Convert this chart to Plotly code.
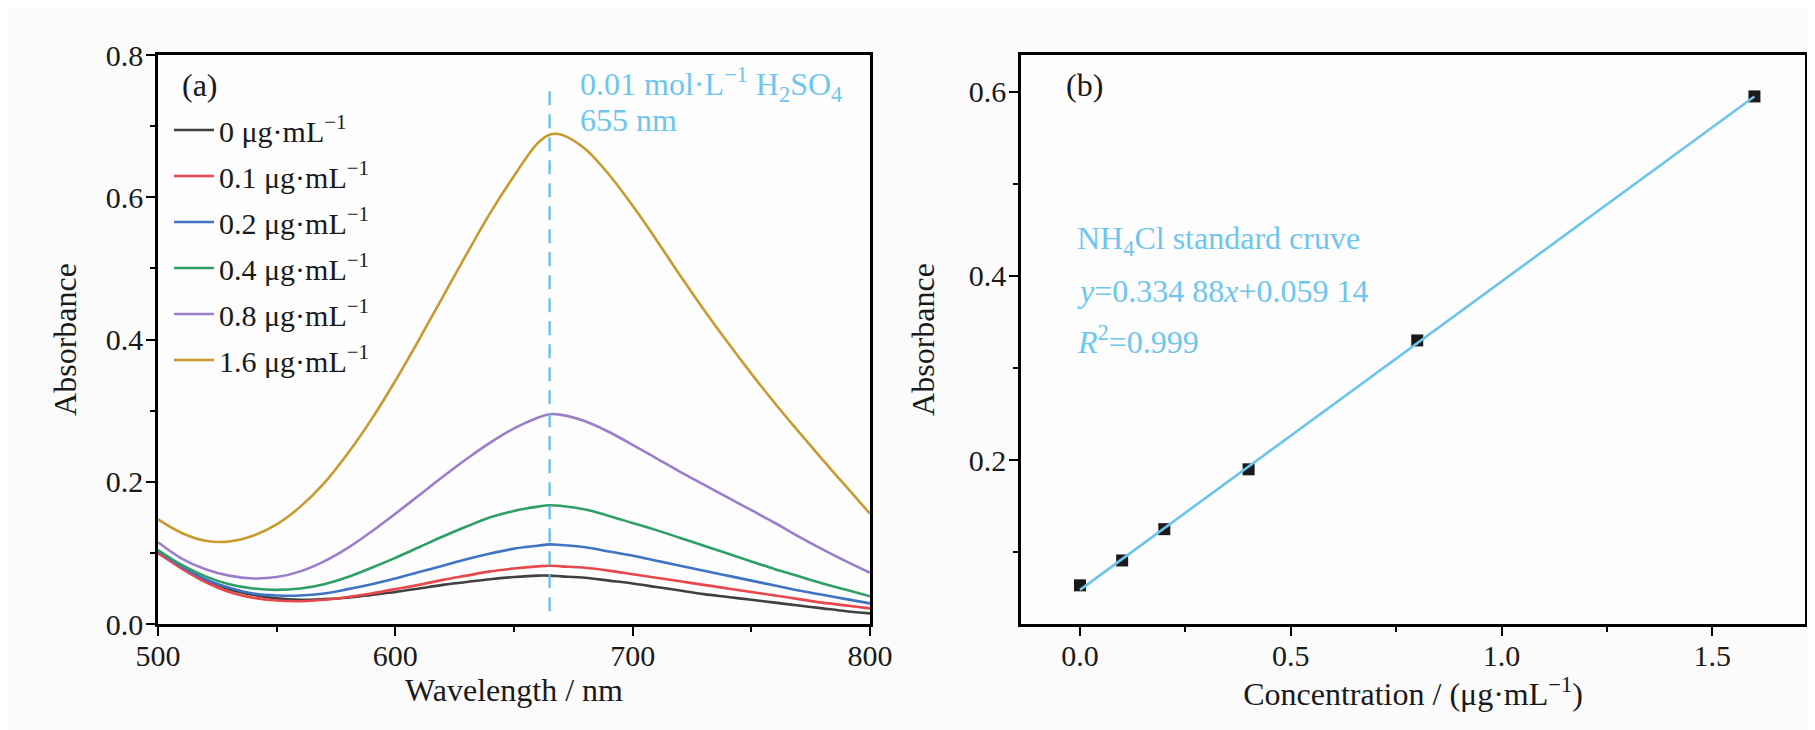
import plotly.graph_objects as go

# ---------------- data ----------------
wavelength = [500, 510, 520, 530, 540, 550, 560, 570, 580, 590, 600, 610, 620, 630, 640, 650,
              660, 665, 670, 680, 690, 700, 710, 720, 730, 740, 750, 760, 770, 780, 790, 800]

abs_0 = [0.100, 0.080, 0.062, 0.049, 0.041, 0.036, 0.034, 0.035, 0.037, 0.041, 0.045, 0.050, 0.055, 0.059, 0.063, 0.066,
         0.068, 0.068, 0.067, 0.065, 0.061, 0.057, 0.052, 0.047, 0.042, 0.038, 0.034, 0.030, 0.026, 0.022, 0.018, 0.015]
abs_01 = [0.100, 0.078, 0.059, 0.045, 0.037, 0.033, 0.032, 0.034, 0.038, 0.043, 0.049, 0.055, 0.062, 0.068, 0.074, 0.078,
          0.081, 0.082, 0.081, 0.079, 0.075, 0.070, 0.065, 0.060, 0.055, 0.050, 0.045, 0.040, 0.035, 0.030, 0.026, 0.022]
abs_02 = [0.103, 0.081, 0.063, 0.051, 0.043, 0.040, 0.040, 0.043, 0.049, 0.056, 0.064, 0.073, 0.082, 0.091, 0.099, 0.106,
          0.110, 0.112, 0.111, 0.108, 0.102, 0.096, 0.089, 0.082, 0.075, 0.068, 0.061, 0.054, 0.047, 0.041, 0.035, 0.029]
abs_04 = [0.104, 0.083, 0.067, 0.056, 0.050, 0.048, 0.050, 0.056, 0.066, 0.079, 0.093, 0.108, 0.123, 0.137, 0.150, 0.159,
          0.165, 0.167, 0.166, 0.161, 0.152, 0.142, 0.132, 0.121, 0.110, 0.099, 0.088, 0.077, 0.067, 0.057, 0.048, 0.039]
abs_08 = [0.115, 0.092, 0.077, 0.068, 0.064, 0.066, 0.074, 0.088, 0.107, 0.130, 0.155, 0.181, 0.207, 0.232, 0.255, 0.275,
          0.290, 0.295, 0.294, 0.285, 0.270, 0.252, 0.233, 0.214, 0.196, 0.178, 0.160, 0.142, 0.123, 0.105, 0.088, 0.072]
abs_16 = [0.147, 0.128, 0.117, 0.116, 0.124, 0.140, 0.165, 0.198, 0.240, 0.288, 0.342, 0.400, 0.460, 0.520, 0.578, 0.630,
          0.676, 0.688, 0.688, 0.668, 0.632, 0.588, 0.540, 0.490, 0.442, 0.396, 0.352, 0.310, 0.270, 0.231, 0.193, 0.155]

series_labels = ["0 μg·mL<sup>−1</sup>", "0.1 μg·mL<sup>−1</sup>", "0.2 μg·mL<sup>−1</sup>",
                 "0.4 μg·mL<sup>−1</sup>", "0.8 μg·mL<sup>−1</sup>", "1.6 μg·mL<sup>−1</sup>"]
series_colors = ["#404040", "#e8474b", "#3f74c4", "#2f9f66", "#9c7dc9", "#c99a2e"]

peak_x = [665, 665]
peak_y = [0.018, 0.76]

conc = [0.0, 0.1, 0.2, 0.4, 0.8, 1.6]
conc_abs = [0.064, 0.091, 0.125, 0.190, 0.330, 0.595]
fit_x = [0.0, 1.6]
fit_y = [0.0591, 0.5949]

FONT = "Liberation Serif"
ANN_BLUE = "#6ec6ee"
W, H = 1815, 730

fig = go.Figure()

for vals, name, col in zip([abs_0, abs_01, abs_02, abs_04, abs_08, abs_16], series_labels, series_colors):
    fig.add_trace(go.Scatter(x=wavelength, y=vals, mode="lines", name=name, legendgroup=name,
                             line=dict(color=col, width=2.6, shape="spline", smoothing=1.0),
                             xaxis="x", yaxis="y"))

fig.add_trace(go.Scatter(x=peak_x, y=peak_y, mode="lines", showlegend=False,
                         line=dict(color="#5fbde9", width=2.2, dash="14px,9px"),
                         xaxis="x", yaxis="y"))

fig.add_trace(go.Scatter(x=conc, y=conc_abs, mode="markers", showlegend=False,
                         marker=dict(symbol="square", size=12, color="#1a1a1a"),
                         xaxis="x2", yaxis="y2"))
fig.add_trace(go.Scatter(x=fit_x, y=fit_y, mode="lines", showlegend=False,
                         line=dict(color="#6cc4ec", width=2.6),
                         xaxis="x2", yaxis="y2"))

axis_common = dict(showline=True, linecolor="black", linewidth=2.6, mirror=True,
                   showgrid=False, zeroline=False, ticks="outside", ticklen=9, tickwidth=2.2,
                   tickcolor="black", tickfont=dict(family=FONT, size=30, color="#1a1a1a"),
                   automargin=False)
minor_common = dict(ticklen=5, tickwidth=2, ticks="outside", tickcolor="black")

ydom = [(H - 616) / H, (H - 47) / H]

fig.update_layout(
    width=W, height=H,
    margin=dict(l=0, r=0, t=0, b=0),
    paper_bgcolor="#fbfbfb", plot_bgcolor="#fdfdfd",
    font=dict(family=FONT, color="#1a1a1a"),
    showlegend=True,
    legend=dict(x=161 / W, y=(H - 96) / H, xanchor="left", yanchor="top",
                bgcolor="rgba(0,0,0,0)", font=dict(family=FONT, size=30, color="#1a1a1a"),
                tracegroupgap=4, itemwidth=40),
    xaxis=dict(axis_common, domain=[150 / W, 862 / W], range=[500, 800], tick0=500, dtick=100,
               minor=dict(minor_common, dtick=50), ticklabelstandoff=-6,
               title=dict(text="Wavelength / nm", font=dict(family=FONT, size=32), standoff=0),
               anchor="y"),
    yaxis=dict(axis_common, domain=ydom, range=[0, 0.8], tick0=0, dtick=0.2, tickformat=".1f",
               minor=dict(minor_common, dtick=0.1), ticklabelstandoff=-3,
               title=dict(text="Absorbance", font=dict(family=FONT, size=32), standoff=20),
               anchor="x"),
    xaxis2=dict(axis_common, domain=[1013 / W, 1797 / W], range=[-0.14, 1.72], tick0=0, dtick=0.5,
                tickformat=".1f", minor=dict(minor_common, dtick=0.25), ticklabelstandoff=-6,
                title=dict(text="Concentration / (μg·mL<sup>−1</sup>)", font=dict(family=FONT, size=32), standoff=0),
                anchor="y2"),
    yaxis2=dict(axis_common, domain=ydom, range=[0.022, 0.640], tick0=0, dtick=0.2, tickformat=".1f",
                minor=dict(minor_common, dtick=0.1), ticklabelstandoff=-3,
                title=dict(text="Absorbance", font=dict(family=FONT, size=32), standoff=25),
                anchor="x2"),
)

def ann(text, x, y, color="#1a1a1a", size=32):
    fig.add_annotation(text=text, x=x / W, y=(H - y) / H, xref="paper", yref="paper",
                       xanchor="left", yanchor="middle", showarrow=False,
                       font=dict(family=FONT, size=size, color=color))

ann("(a)", 172, 77)
ann("(b)", 1056, 77)
ann("0.01 mol·L<sup>−1</sup> H<sub>2</sub>SO<sub>4</sub>", 570, 76, ANN_BLUE)
ann("655 nm", 570, 112, ANN_BLUE)
ann("NH<sub>4</sub>Cl standard cruve", 1067, 233, ANN_BLUE)
ann("<i>y</i>=0.334 88<i>x</i>+0.059 14", 1067, 283, ANN_BLUE)
ann("<i>R</i><sup>2</sup>=0.999", 1067, 332, ANN_BLUE)

fig.write_html("out.html")
